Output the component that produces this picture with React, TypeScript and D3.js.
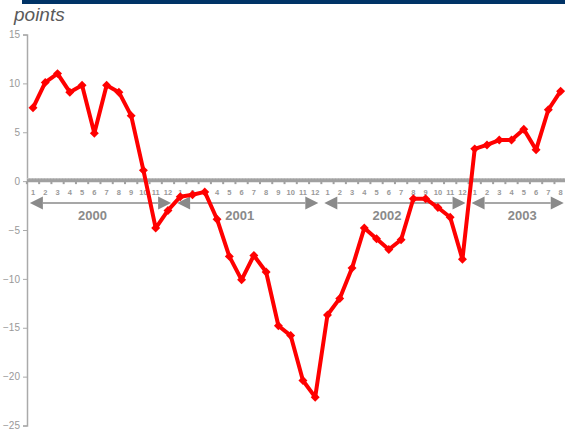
import React, { useEffect, useRef } from 'react';
import * as d3 from 'd3';

// Monthly index, points, January 2000 – August 2003
const years = ['2000', '2001', '2002', '2003'];
const monthCounts = [12, 12, 12, 8];
const values2000 = [7.5, 10.1, 11.0, 9.1, 9.8, 4.9, 9.8, 9.1, 6.7, 1.1, -4.8, -3.0];
const values2001 = [-1.6, -1.4, -1.1, -3.9, -7.7, -10.1, -7.6, -9.3, -14.8, -15.8, -20.4, -22.1];
const values2002 = [-13.7, -12.0, -8.9, -4.8, -5.9, -7.0, -6.0, -1.8, -1.8, -2.7, -3.7, -8.0];
const values2003 = [3.3, 3.7, 4.2, 4.2, 5.3, 3.2, 7.3, 9.2];
const yTicks = [15, 10, 5, 0, -5, -10, -15, -20, -25];
const unitLabel = 'points';

const W = 565;
const H = 433;
const FONT = 'Arial, "Liberation Sans", Helvetica, sans-serif';
const GRAY = '#8a8a8a';

export default function App() {
  const ref = useRef<SVGSVGElement>(null);

  useEffect(() => {
    const svg = d3.select(ref.current);
    svg.selectAll('*').remove();

    const values = [...values2000, ...values2001, ...values2002, ...values2003];
    const periods = years.flatMap((yr, i) =>
      d3.range(1, monthCounts[i] + 1).map((m) => ({ year: yr, month: m }))
    );
    const data = periods.map((p, i) => ({ ...p, i, v: values[i] }));

    const x = d3.scalePoint<number>().domain(d3.range(periods.length)).range([33, 560.6]);
    const step = x.step();
    const y = d3.scaleLinear().domain([-25, 15]).range([425.5, 34.5]);

    // header bar
    svg.append('rect').attr('x', 22).attr('y', 0).attr('width', W - 22).attr('height', 4).attr('fill', '#003366');

    // unit label
    svg.append('text')
      .attr('x', 14).attr('y', 21)
      .attr('font-family', FONT).attr('font-size', 19).attr('font-style', 'italic')
      .attr('fill', '#5a5a5a')
      .text(unitLabel);

    // y axis
    const yAxis = svg.append('g').attr('transform', 'translate(27,0)')
      .call(d3.axisLeft(y).tickValues(yTicks).tickSize(4).tickSizeOuter(4).tickPadding(3).tickFormat(d3.format('d')));
    yAxis.select('.domain').attr('stroke', '#aaa').attr('stroke-width', 1.5);
    yAxis.selectAll('.tick line').attr('stroke', '#aaa');
    yAxis.selectAll('.tick text').attr('fill', '#999').attr('font-family', FONT).attr('font-size', 10);

    // category axis at zero
    const y0 = y(0) - 1;
    svg.append('line')
      .attr('x1', 27).attr('x2', W).attr('y1', y0).attr('y2', y0)
      .attr('stroke', '#a0a0a0').attr('stroke-width', 4);
    svg.append('line')
      .attr('x1', 27).attr('x2', W).attr('y1', y0 - 1.5).attr('y2', y0 - 1.5)
      .attr('stroke', '#c4c4c4').attr('stroke-width', 1).attr('stroke-dasharray', '2,1');
    svg.append('g').selectAll('rect')
      .data(d3.range(periods.length + 1))
      .join('rect')
      .attr('x', (i) => 33 + (i - 0.5) * step - 1)
      .attr('y', y0 + 1.5)
      .attr('width', 2).attr('height', 2.5)
      .attr('fill', '#a0a0a0');

    // month labels
    svg.append('g').selectAll('text')
      .data(data)
      .join('text')
      .attr('x', (d) => x(d.i)!)
      .attr('y', y0 + 15)
      .attr('text-anchor', 'middle')
      .attr('font-family', FONT).attr('font-size', 7.5).attr('font-weight', 'bold')
      .attr('fill', '#999')
      .text((d) => d.month);

    // year spans with arrows
    const arrowY = 203;
    const head = 13;
    let start = 0;
    years.forEach((yr, k) => {
      const n = monthCounts[k];
      const left = x(start)! - step / 2 + 3;
      const partial = n < 12;
      const right = x(start + n - 1)! + step / 2 - 3;
      const g = svg.append('g');
      g.append('line')
        .attr('x1', left + head).attr('x2', right - head)
        .attr('y1', arrowY).attr('y2', arrowY)
        .attr('stroke', GRAY).attr('stroke-width', 1.5);
      g.append('path')
        .attr('d', `M${left},${arrowY}L${left + head},${arrowY - head / 2}L${left + head},${arrowY + head / 2}Z`)
        .attr('fill', GRAY);
      g.append('path')
        .attr('d', `M${right},${arrowY}L${right - head},${arrowY - head / 2}L${right - head},${arrowY + head / 2}Z`)
        .attr('fill', GRAY);
      const cx = partial ? (left + W) / 2 + 4 : (left + right) / 2 - 8;
      g.append('text')
        .attr('x', cx).attr('y', 220)
        .attr('text-anchor', 'middle')
        .attr('font-family', FONT).attr('font-size', 13).attr('font-weight', 'bold')
        .attr('fill', GRAY)
        .text(yr);
      start += n;
    });

    // series line
    const line = d3.line<{ i: number; v: number }>()
      .x((d) => x(d.i)!)
      .y((d) => y(d.v));
    svg.append('path')
      .datum(data)
      .attr('d', line)
      .attr('fill', 'none')
      .attr('stroke', '#ff0000')
      .attr('stroke-width', 4)
      .attr('stroke-linejoin', 'round');

    const diamond = d3.symbol().type(d3.symbolSquare).size(40);
    svg.append('g').selectAll('path')
      .data(data)
      .join('path')
      .attr('d', diamond)
      .attr('transform', (d) => `translate(${x(d.i)},${y(d.v)}) rotate(45)`)
      .attr('fill', '#ff0000');
  }, []);

  return (
    <svg
      ref={ref}
      width={W}
      height={H}
      style={{ position: 'absolute', left: 0, top: 0, background: '#fff' }}
    />
  );
}
